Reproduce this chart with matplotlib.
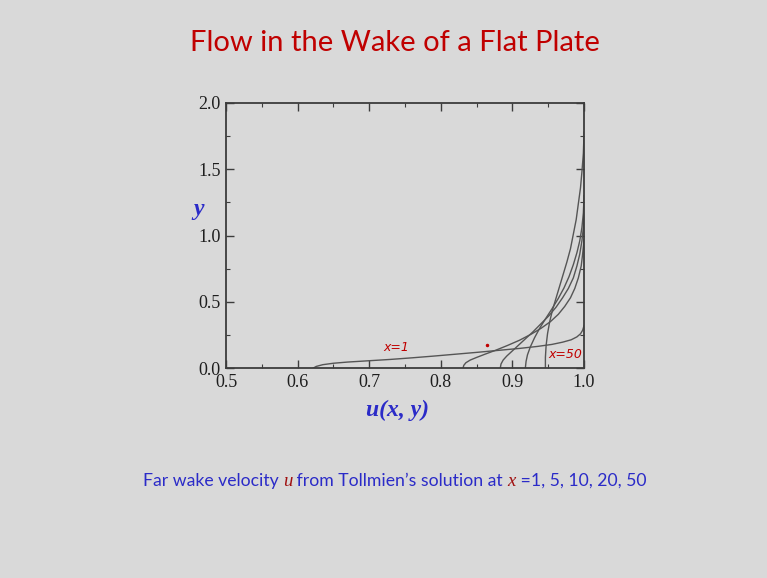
import matplotlib
matplotlib.use("Agg")
import matplotlib.pyplot as plt
from matplotlib.ticker import MultipleLocator

# ---- data ----
stations = ["x=1", "x=5", "x=10", "x=20", "x=50"]
u_x1 = [0.622, 0.626, 0.635, 0.650, 0.670, 0.700, 0.730, 0.760, 0.790, 0.820, 0.850,
        0.880, 0.910, 0.935, 0.955, 0.970, 0.982, 0.990, 0.995, 0.998, 1.000]
y_x1 = [0.000, 0.012, 0.025, 0.036, 0.045, 0.055, 0.065, 0.077, 0.090, 0.104, 0.118,
        0.133, 0.148, 0.163, 0.178, 0.195, 0.213, 0.235, 0.258, 0.285, 0.320]
u_x5 = [0.831, 0.832, 0.835, 0.841, 0.850, 0.862, 0.877, 0.893, 0.910, 0.926, 0.940,
        0.953, 0.964, 0.973, 0.981, 0.987, 0.992, 0.996, 0.998, 1.000]
y_x5 = [0.000, 0.020, 0.040, 0.060, 0.080, 0.105, 0.135, 0.170, 0.210, 0.255, 0.300,
        0.350, 0.405, 0.465, 0.530, 0.600, 0.680, 0.770, 0.860, 0.970]
u_x10 = [0.883, 0.884, 0.887, 0.892, 0.899, 0.908, 0.918, 0.929, 0.940, 0.951, 0.961,
         0.970, 0.978, 0.985, 0.990, 0.994, 0.997, 0.999, 1.000]
y_x10 = [0.000, 0.030, 0.060, 0.090, 0.125, 0.170, 0.220, 0.275, 0.335, 0.395, 0.460,
         0.530, 0.600, 0.680, 0.770, 0.860, 0.960, 1.060, 1.180]
u_x20 = [0.918, 0.919, 0.921, 0.925, 0.931, 0.938, 0.946, 0.955, 0.964, 0.972, 0.979,
         0.985, 0.990, 0.994, 0.997, 0.999, 1.000]
y_x20 = [0.000, 0.050, 0.100, 0.160, 0.230, 0.300, 0.370, 0.445, 0.525, 0.605, 0.690,
         0.780, 0.870, 0.960, 1.060, 1.170, 1.300]
u_x50 = [0.946, 0.946, 0.947, 0.949, 0.952, 0.956, 0.961, 0.966, 0.971, 0.976, 0.981,
         0.985, 0.989, 0.992, 0.995, 0.997, 0.999, 1.000]
y_x50 = [0.000, 0.080, 0.170, 0.260, 0.350, 0.440, 0.530, 0.620, 0.710, 0.800, 0.900,
         1.010, 1.120, 1.240, 1.360, 1.480, 1.620, 1.780]
u_curves = [u_x1, u_x5, u_x10, u_x20, u_x50]
y_curves = [y_x1, y_x5, y_x10, y_x20, y_x50]

x_ticks = [0.5, 0.6, 0.7, 0.8, 0.9, 1.0]
y_ticks = [0.0, 0.5, 1.0, 1.5, 2.0]

title = "Flow in the Wake of a Flat Plate"
caption_parts = [("Far wake velocity ", "blue"), ("u", "red"),
                 (" from Tollmien\u2019s solution at ", "blue"), ("x", "red"),
                 (" =1, 5, 10, 20, 50", "blue")]

BG = "#d9d9d9"
BLUE = "#2b2bc8"
RED = "#c00000"
DRED = "#a01010"
INK = "#3c3c3c"

fig = plt.figure(figsize=(7.67, 5.78), dpi=100, facecolor=BG)
ax = fig.add_axes([0.2947, 0.3633, 0.4668, 0.4585], facecolor=BG)

for u, y in zip(u_curves, y_curves):
    ax.plot(u, y, color="#555555", lw=1.0, solid_joinstyle="round")

ax.set_xlim(0.5, 1.0)
ax.set_ylim(0.0, 2.0)
ax.set_xticks(x_ticks)
ax.set_yticks(y_ticks)
ax.set_xticklabels([f"{v:.1f}" for v in x_ticks])
ax.set_yticklabels([f"{v:.1f}" for v in y_ticks])
ax.xaxis.set_minor_locator(MultipleLocator(0.05))
ax.yaxis.set_minor_locator(MultipleLocator(0.25))
ax.tick_params(which="both", direction="in", top=True, right=True, color=INK)
ax.tick_params(which="major", length=6, width=1.0, labelsize=13, labelcolor="#1e1e1e", pad=4)
ax.tick_params(which="minor", length=3, width=0.8)
for lab in ax.get_xticklabels() + ax.get_yticklabels():
    lab.set_fontfamily("Liberation Serif")
for s in ax.spines.values():
    s.set_color(INK)
    s.set_linewidth(1.3)

# hand annotations
ax.text(0.738, 0.105, "x=1", color=RED, fontsize=9, style="italic",
        family="DejaVu Sans", ha="center", va="bottom")
ax.text(0.974, 0.055, "x=50", color=RED, fontsize=9, style="italic",
        family="DejaVu Sans", ha="center", va="bottom")
ax.plot([0.8645], [0.172], marker="o", ms=1.5, color=RED)

# axis labels
fig.text(199 / 767, 1 - 210 / 578, "y", color=BLUE, fontsize=17, family="Liberation Serif",
         style="italic", weight="bold", ha="center", va="center")
fig.text(398 / 767, 1 - 410 / 578, "u(x, y)", color=BLUE, fontsize=17, family="Liberation Serif",
         style="italic", weight="bold", ha="center", va="center")

# title
fig.text(395 / 767, 1 - 43 / 578, title, color=RED, fontsize=21, family="Lato",
         ha="center", va="center")

# caption built from coloured pieces
fig.canvas.draw()
renderer = fig.canvas.get_renderer()
pieces = []
for txt, col in caption_parts:
    is_var = txt in ("u", "x")
    t = fig.text(0, 1 - 481 / 578, txt, color=(DRED if col == "red" else BLUE),
                 fontsize=(13.5 if is_var else 12.7),
                 family=("Liberation Serif" if is_var else "Lato"),
                 style=("italic" if is_var else "normal"), va="center", ha="left")
    pieces.append(t)
widths = [p.get_window_extent(renderer).width for p in pieces]
total = sum(widths)
x0 = 394.5 - total / 2
for p, w in zip(pieces, widths):
    p.set_x(x0 / 767)
    x0 += w

fig.savefig("out.png", dpi=100, facecolor=BG)
